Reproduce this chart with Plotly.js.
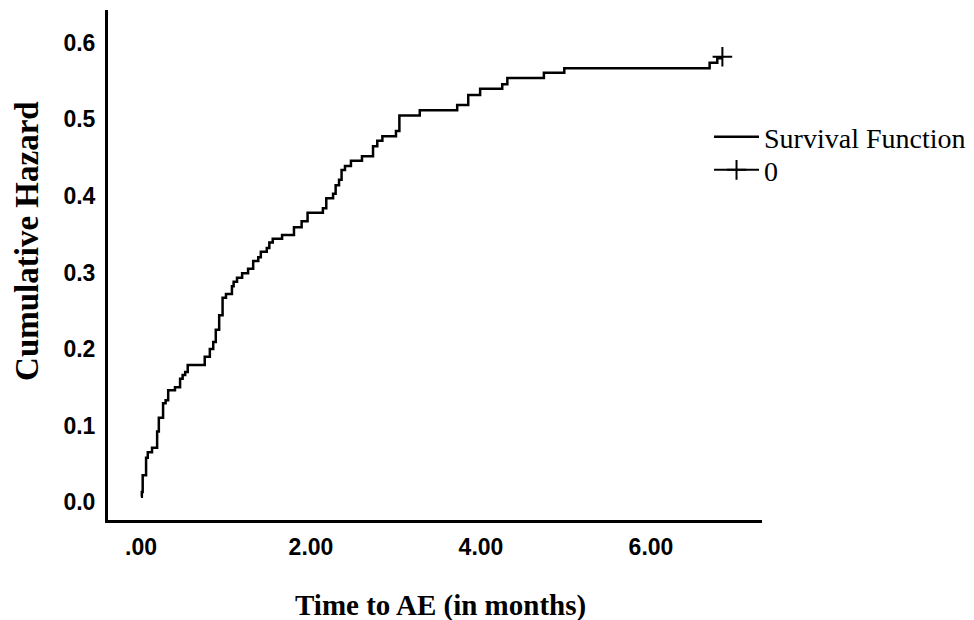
<!DOCTYPE html>
<html>
<head>
<meta charset="utf-8">
<script src="https://cdn.plot.ly/plotly-3.0.1.min.js"></script>
<style>
  html, body { margin: 0; padding: 0; background: #ffffff; }
  #chart { width: 974px; height: 620px; }
</style>
</head>
<body>
<div id="chart"></div>
<script>
// Event times (months) and cumulative hazard after each step
const eventTimes = [0.00, 0.01, 0.02, 0.06, 0.08, 0.13, 0.19, 0.21, 0.26, 0.29,
  0.32, 0.40, 0.46, 0.49, 0.52, 0.55, 0.75, 0.81, 0.85, 0.88,
  0.92, 0.96, 1.00, 1.07, 1.09, 1.13, 1.19, 1.26, 1.32, 1.38,
  1.41, 1.48, 1.51, 1.55, 1.66, 1.80, 1.89, 1.96, 2.14, 2.18,
  2.26, 2.29, 2.33, 2.36, 2.40, 2.47, 2.60, 2.73, 2.78, 2.84,
  3.00, 3.04, 3.28, 3.72, 3.85, 3.99, 4.25, 4.31, 4.74, 4.98,
  6.69, 6.78, 6.84];
const cumHazard = [0.007, 0.013, 0.035, 0.058, 0.065, 0.071, 0.092, 0.110, 0.129, 0.133,
  0.146, 0.150, 0.161, 0.166, 0.170, 0.179, 0.190, 0.200, 0.209, 0.225,
  0.244, 0.267, 0.272, 0.282, 0.288, 0.293, 0.299, 0.305, 0.315, 0.320,
  0.327, 0.332, 0.339, 0.344, 0.349, 0.359, 0.367, 0.378, 0.384, 0.397,
  0.403, 0.414, 0.421, 0.434, 0.439, 0.446, 0.452, 0.465, 0.472, 0.478,
  0.485, 0.505, 0.512, 0.519, 0.532, 0.540, 0.546, 0.554, 0.561, 0.567,
  0.574, 0.580, 0.580];
// Censored observation
const censorTimes = [6.84];
const censorHazard = [0.582];

const xTickVals = [0, 2, 4, 6];
const xTickText = ['.00', '2.00', '4.00', '6.00'];
const yTickVals = [0, 0.1, 0.2, 0.3, 0.4, 0.5, 0.6];

const seriesNames = ['Survival Function', '0'];
const xTitle = 'Time to AE (in months)';
const yTitle = 'Cumulative Hazard';

const serif = 'Liberation Serif, Times New Roman, serif';
const sans = 'Liberation Sans, Arial, sans-serif';

const traces = [
  {
    x: eventTimes, y: cumHazard, type: 'scatter', mode: 'lines',
    name: seriesNames[0], legend: 'legend',
    line: { color: '#000000', width: 2.5, shape: 'hv' }
  },
  {
    x: censorTimes, y: censorHazard, type: 'scatter', mode: 'lines+markers',
    name: seriesNames[1], legend: 'legend2',
    line: { color: '#000000', width: 2 },
    marker: { symbol: 'cross-thin', size: 14, color: '#000000', line: { color: '#000000', width: 2 } }
  }
];

const legendCommon = {
  xanchor: 'left', yanchor: 'top',
  font: { family: serif, size: 28, color: '#000000' },
  itemwidth: 45, bgcolor: 'rgba(0,0,0,0)'
};

const layout = {
  width: 974, height: 620,
  margin: { l: 108, r: 212, t: 10, b: 100, autoexpand: false },
  paper_bgcolor: '#ffffff', plot_bgcolor: '#ffffff',
  showlegend: true,
  legend: Object.assign({ x: 0.919, y: 0.80 }, legendCommon),
  legend2: Object.assign({ x: 0.919, y: 0.735 }, legendCommon),
  xaxis: {
    range: [-0.388, 7.306],
    tickvals: xTickVals, ticktext: xTickText,
    showline: true, linecolor: '#000000', linewidth: 3,
    showgrid: false, zeroline: false, ticks: '',
    ticklabelstandoff: 4,
    tickfont: { family: sans, size: 23, color: '#000000', weight: 'bold' }
  },
  yaxis: {
    range: [-0.0235, 0.643],
    tickvals: yTickVals, tickformat: '.1f',
    showline: true, linecolor: '#000000', linewidth: 3,
    showgrid: false, zeroline: false, ticks: '',
    ticklabelstandoff: 5,
    tickfont: { family: sans, size: 23, color: '#000000', weight: 'bold' }
  },
  annotations: [
    {
      text: yTitle, xref: 'paper', yref: 'paper',
      x: -0.124, y: 0.547, xanchor: 'center', yanchor: 'middle',
      textangle: -90, showarrow: false,
      font: { family: serif, size: 33, color: '#000000', weight: 'bold' }
    },
    {
      text: xTitle, xref: 'paper', yref: 'paper',
      x: 0.508, y: -0.167, xanchor: 'center', yanchor: 'middle',
      showarrow: false,
      font: { family: serif, size: 29, color: '#000000', weight: 'bold' }
    }
  ]
};

Plotly.newPlot('chart', traces, layout, { displayModeBar: false, staticPlot: true });
</script>
</body>
</html>
